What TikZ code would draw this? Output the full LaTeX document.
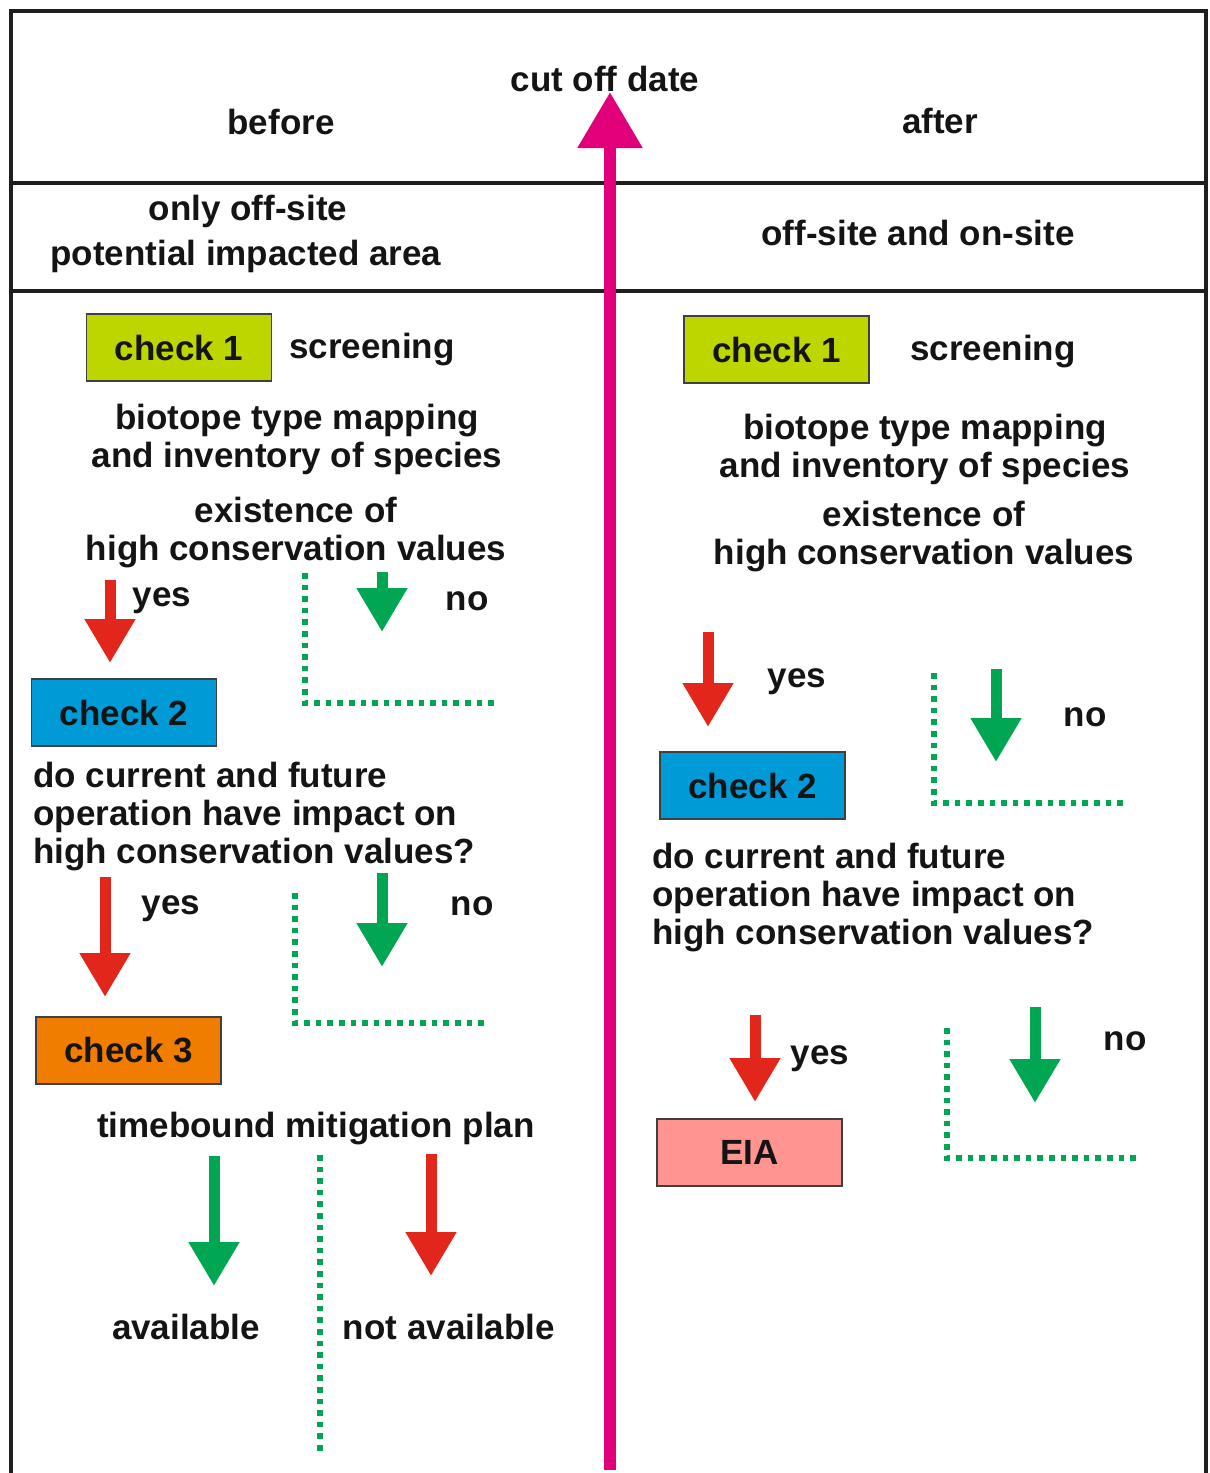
\documentclass[tikz,border=0pt]{standalone}
\usepackage{fontspec}
\setmainfont{Liberation Sans}
\usetikzlibrary{arrows.meta}
\definecolor{magentaA}{RGB}{226,0,122}
\definecolor{redA}{RGB}{226,38,27}
\definecolor{greenA}{RGB}{0,166,81}
\definecolor{limeA}{RGB}{190,214,0}
\definecolor{blueA}{RGB}{0,155,214}
\definecolor{orangeA}{RGB}{240,125,0}
\definecolor{pinkA}{RGB}{255,148,144}
\definecolor{frameA}{RGB}{30,30,30}
\definecolor{textA}{RGB}{20,20,20}
\begin{document}
\begin{tikzpicture}[x=0.5pt,y=-0.5pt,
  every node/.style={font=\bfseries\fontsize{17.5}{19.8}\selectfont, inner sep=0pt, text=textA},
  txt/.style={anchor=base, yshift=-1.2pt},
  lt/.style={anchor=base west, yshift=-1.2pt},
  checkbox/.style={draw=frameA!85, line width=0.7pt, minimum width=92.5pt, minimum height=33.5pt},
  frameline/.style={draw=frameA, line width=2pt},
  redarrow/.style={draw=redA, line width=5.5pt, -{Triangle[length=22pt,width=24pt]}},
  greenarrow/.style={draw=greenA, line width=5.5pt, -{Triangle[length=22pt,width=24pt]}},
  dotline/.style={draw=greenA, line width=2.8pt, dash pattern=on 2.8pt off 3pt},
  cutarrow/.style={draw=magentaA, line width=6pt, -{Triangle[length=28pt,width=31pt]}}
]
\useasboundingbox (0,0) rectangle (1210,1473);

% frame
\draw[frameline] (11,1480) -- (11,11) -- (1206,11) -- (1206,1480);
\draw[frameline] (11,183) -- (1206,183);
\draw[frameline] (11,291) -- (1206,291);

% header
\node[txt] (before) at (281,132) {before};
\node[txt] (cutoff) at (605,89) {cut off date};
\node[txt] (after) at (940,131) {after};
\node[txt] (offonly1) at (248,218) {only off-site};
\node[txt] (offonly2) at (246,263) {potential impacted area};
\node[txt] (offon) at (918,243) {off-site and on-site};

% cut off arrow
\coordinate (cutS) at (610,1470);
\coordinate (cutE) at (610,92);
\draw[cutarrow] (cutS) -- (cutE);

% ---------- left column ----------
\node[checkbox, fill=limeA] (c1L) at (179,347.5) {check 1};
\node[txt] (scrL) at (372,356) {screening};
\node[txt] (bioL1) at (297,427) {biotope type mapping};
\node[txt] (bioL2) at (297,465) {and inventory of species};
\node[txt] (hcvL1) at (296,520) {existence of};
\node[txt] (hcvL2) at (296,558) {high conservation values};

\coordinate (r1Ls) at (110,580);
\coordinate (r1Le) at (110,663);
\draw[redarrow] (r1Ls) -- (r1Le);
\node[txt] (yes1L) at (162,604) {yes};
\coordinate (d1Ls) at (305,573);
\coordinate (d1Le) at (498,703);
\draw[dotline] (d1Ls) |- (d1Le);
\coordinate (g1Ls) at (382,572);
\coordinate (g1Le) at (382,632);
\draw[greenarrow] (g1Ls) -- (g1Le);
\node[txt] (no1L) at (467,608) {no};

\node[checkbox, fill=blueA] (c2L) at (124,712.5) {check 2};
\node[lt] (qL1) at (33,785) {do current and future};
\node[lt] (qL2) at (33,823) {operation have impact on};
\node[lt] (qL3) at (33,861) {high conservation values?};

\coordinate (r2Ls) at (105,877);
\coordinate (r2Le) at (105,997);
\draw[redarrow] (r2Ls) -- (r2Le);
\node[txt] (yes2L) at (171,912) {yes};
\coordinate (d2Ls) at (295,893);
\coordinate (d2Le) at (488,1023);
\draw[dotline] (d2Ls) |- (d2Le);
\coordinate (g2Ls) at (382,873);
\coordinate (g2Le) at (382,967);
\draw[greenarrow] (g2Ls) -- (g2Le);
\node[txt] (no2L) at (472,913) {no};

\node[checkbox, fill=orangeA] (c3L) at (128.5,1050.5) {check 3};
\node[txt] (planL) at (316,1135) {timebound mitigation plan};

\coordinate (g3Ls) at (214,1156);
\coordinate (g3Le) at (214,1286);
\draw[greenarrow] (g3Ls) -- (g3Le);
\coordinate (d3Ls) at (320,1155);
\coordinate (d3Le) at (320,1453);
\draw[dotline] (d3Ls) -- (d3Le);
\coordinate (r3Ls) at (431,1154);
\coordinate (r3Le) at (431,1276);
\draw[redarrow] (r3Ls) -- (r3Le);
\node[txt] (avail) at (186,1337) {available};
\node[txt] (navail) at (449,1337) {not available};

% ---------- right column ----------
\node[checkbox, fill=limeA] (c1R) at (776.5,349.5) {check 1};
\node[txt] (scrR) at (993,358) {screening};
\node[txt] (bioR1) at (925,437) {biotope type mapping};
\node[txt] (bioR2) at (925,475) {and inventory of species};
\node[txt] (hcvR1) at (924,524) {existence of};
\node[txt] (hcvR2) at (924,562) {high conservation values};

\coordinate (r1Rs) at (708,632);
\coordinate (r1Re) at (708,727);
\draw[redarrow] (r1Rs) -- (r1Re);
\node[txt] (yes1R) at (797,685) {yes};
\coordinate (d1Rs) at (934,673);
\coordinate (d1Re) at (1127,803);
\draw[dotline] (d1Rs) |- (d1Re);
\coordinate (g1Rs) at (996,669);
\coordinate (g1Re) at (996,762);
\draw[greenarrow] (g1Rs) -- (g1Re);
\node[txt] (no1R) at (1085,724) {no};

\node[checkbox, fill=blueA] (c2R) at (752.5,785.5) {check 2};
\node[lt] (qR1) at (652,866) {do current and future};
\node[lt] (qR2) at (652,904) {operation have impact on};
\node[lt] (qR3) at (652,942) {high conservation values?};

\coordinate (r2Rs) at (755,1015);
\coordinate (r2Re) at (755,1102);
\draw[redarrow] (r2Rs) -- (r2Re);
\node[txt] (yes2R) at (820,1062) {yes};
\coordinate (d2Rs) at (947,1028);
\coordinate (d2Re) at (1141,1158);
\draw[dotline] (d2Rs) |- (d2Re);
\coordinate (g2Rs) at (1035,1007);
\coordinate (g2Re) at (1035,1103);
\draw[greenarrow] (g2Rs) -- (g2Re);
\node[txt] (no2R) at (1125,1048) {no};

\node[checkbox, fill=pinkA] (eia) at (749.5,1152.5) {EIA};
\end{tikzpicture}
\end{document}
